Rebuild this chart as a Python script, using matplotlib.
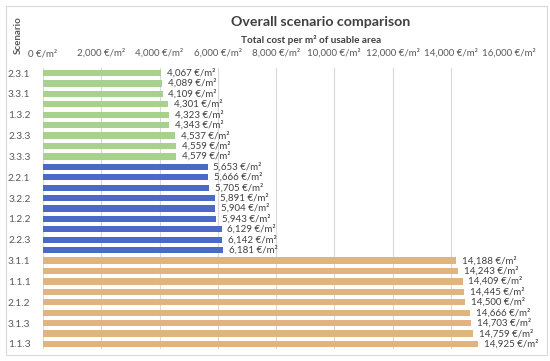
import matplotlib.pyplot as plt
from matplotlib.patches import FancyBboxPatch
from matplotlib.ticker import FuncFormatter

plt.rcParams['font.family'] = ['Lato', 'DejaVu Sans']

# scenarios sorted by total cost (top to bottom)
scenarios = ["2.3.1", "1.3.1", "3.3.1", "2.3.2", "1.3.2", "3.3.2", "2.3.3", "1.3.3", "3.3.3",
             "1.2.1", "2.2.1", "3.2.1", "3.2.2", "2.2.2", "1.2.2", "1.2.3", "2.2.3", "3.2.3",
             "3.1.1", "2.1.1", "1.1.1", "3.1.2", "2.1.2", "1.1.2", "3.1.3", "2.1.3", "1.1.3"]
costs = [4067, 4089, 4109, 4301, 4323, 4343, 4537, 4559, 4579,
         5653, 5666, 5705, 5891, 5904, 5943, 6129, 6142, 6181,
         14188, 14243, 14409, 14445, 14500, 14666, 14703, 14759, 14925]
groups = ["green"] * 9 + ["blue"] * 9 + ["orange"] * 9
group_colors = {"green": "#A9D18E", "blue": "#4B69C6", "orange": "#DFB47F"}
xticks = [0, 2000, 4000, 6000, 8000, 10000, 12000, 14000, 16000]

fig = plt.figure(figsize=(5.5, 3.61), dpi=100)

# outer chart border
fig.patches.append(FancyBboxPatch((6 / 550, 6 / 361), 541 / 550, 349 / 361,
                                  boxstyle="square,pad=0", transform=fig.transFigure,
                                  facecolor="white", edgecolor="#D9D9D9", lw=0.8, zorder=-1))

ax = fig.add_axes([43 / 550, 1 - 349.2 / 361, 466 / 550, 281.4 / 361])
ax.patch.set_alpha(0)

ypos = list(range(len(costs)))
colors = [group_colors[g] for g in groups]
ax.barh(ypos, costs, height=0.6, color=colors, zorder=3)

for y, c in zip(ypos, costs):
    ax.text(c + 200, y, f"{c:,} €/m²", va="center", ha="left",
            fontsize=7, color="#404040")

ax.set_ylim(len(costs) - 0.5, -0.5)
ax.set_xlim(0, 16000)
ax.set_xticks(xticks)
ax.xaxis.set_major_formatter(FuncFormatter(lambda v, p: f"{int(v):,} €/m²"))
ax.xaxis.tick_top()
ax.tick_params(axis="x", length=0, pad=7, labelsize=7, labelcolor="#595959")
ax.set_yticks(ypos)
ax.set_yticklabels([s if i % 2 == 0 else "" for i, s in enumerate(scenarios)])
ax.tick_params(axis="y", length=0, pad=9, labelsize=7.3, labelcolor="#595959")
ax.grid(axis="x", color="#D9D9D9", lw=0.8, zorder=0)
for s in ax.spines.values():
    s.set_visible(False)

fig.text(321 / 550, 1 - 22 / 361, "Overall scenario comparison", ha="center", va="center",
         fontsize=10.2, fontweight="bold", color="#404040")
fig.text(311 / 550, 1 - 40 / 361, "Total cost per m² of usable area", ha="center", va="center",
         fontsize=7.2, fontweight="bold", color="#404040")
fig.text(18 / 550, 1 - 35 / 361, "Scenario", ha="center", va="center", rotation=90,
         fontsize=7, fontweight="bold", color="#595959")

fig.savefig("out.png", dpi=100)
